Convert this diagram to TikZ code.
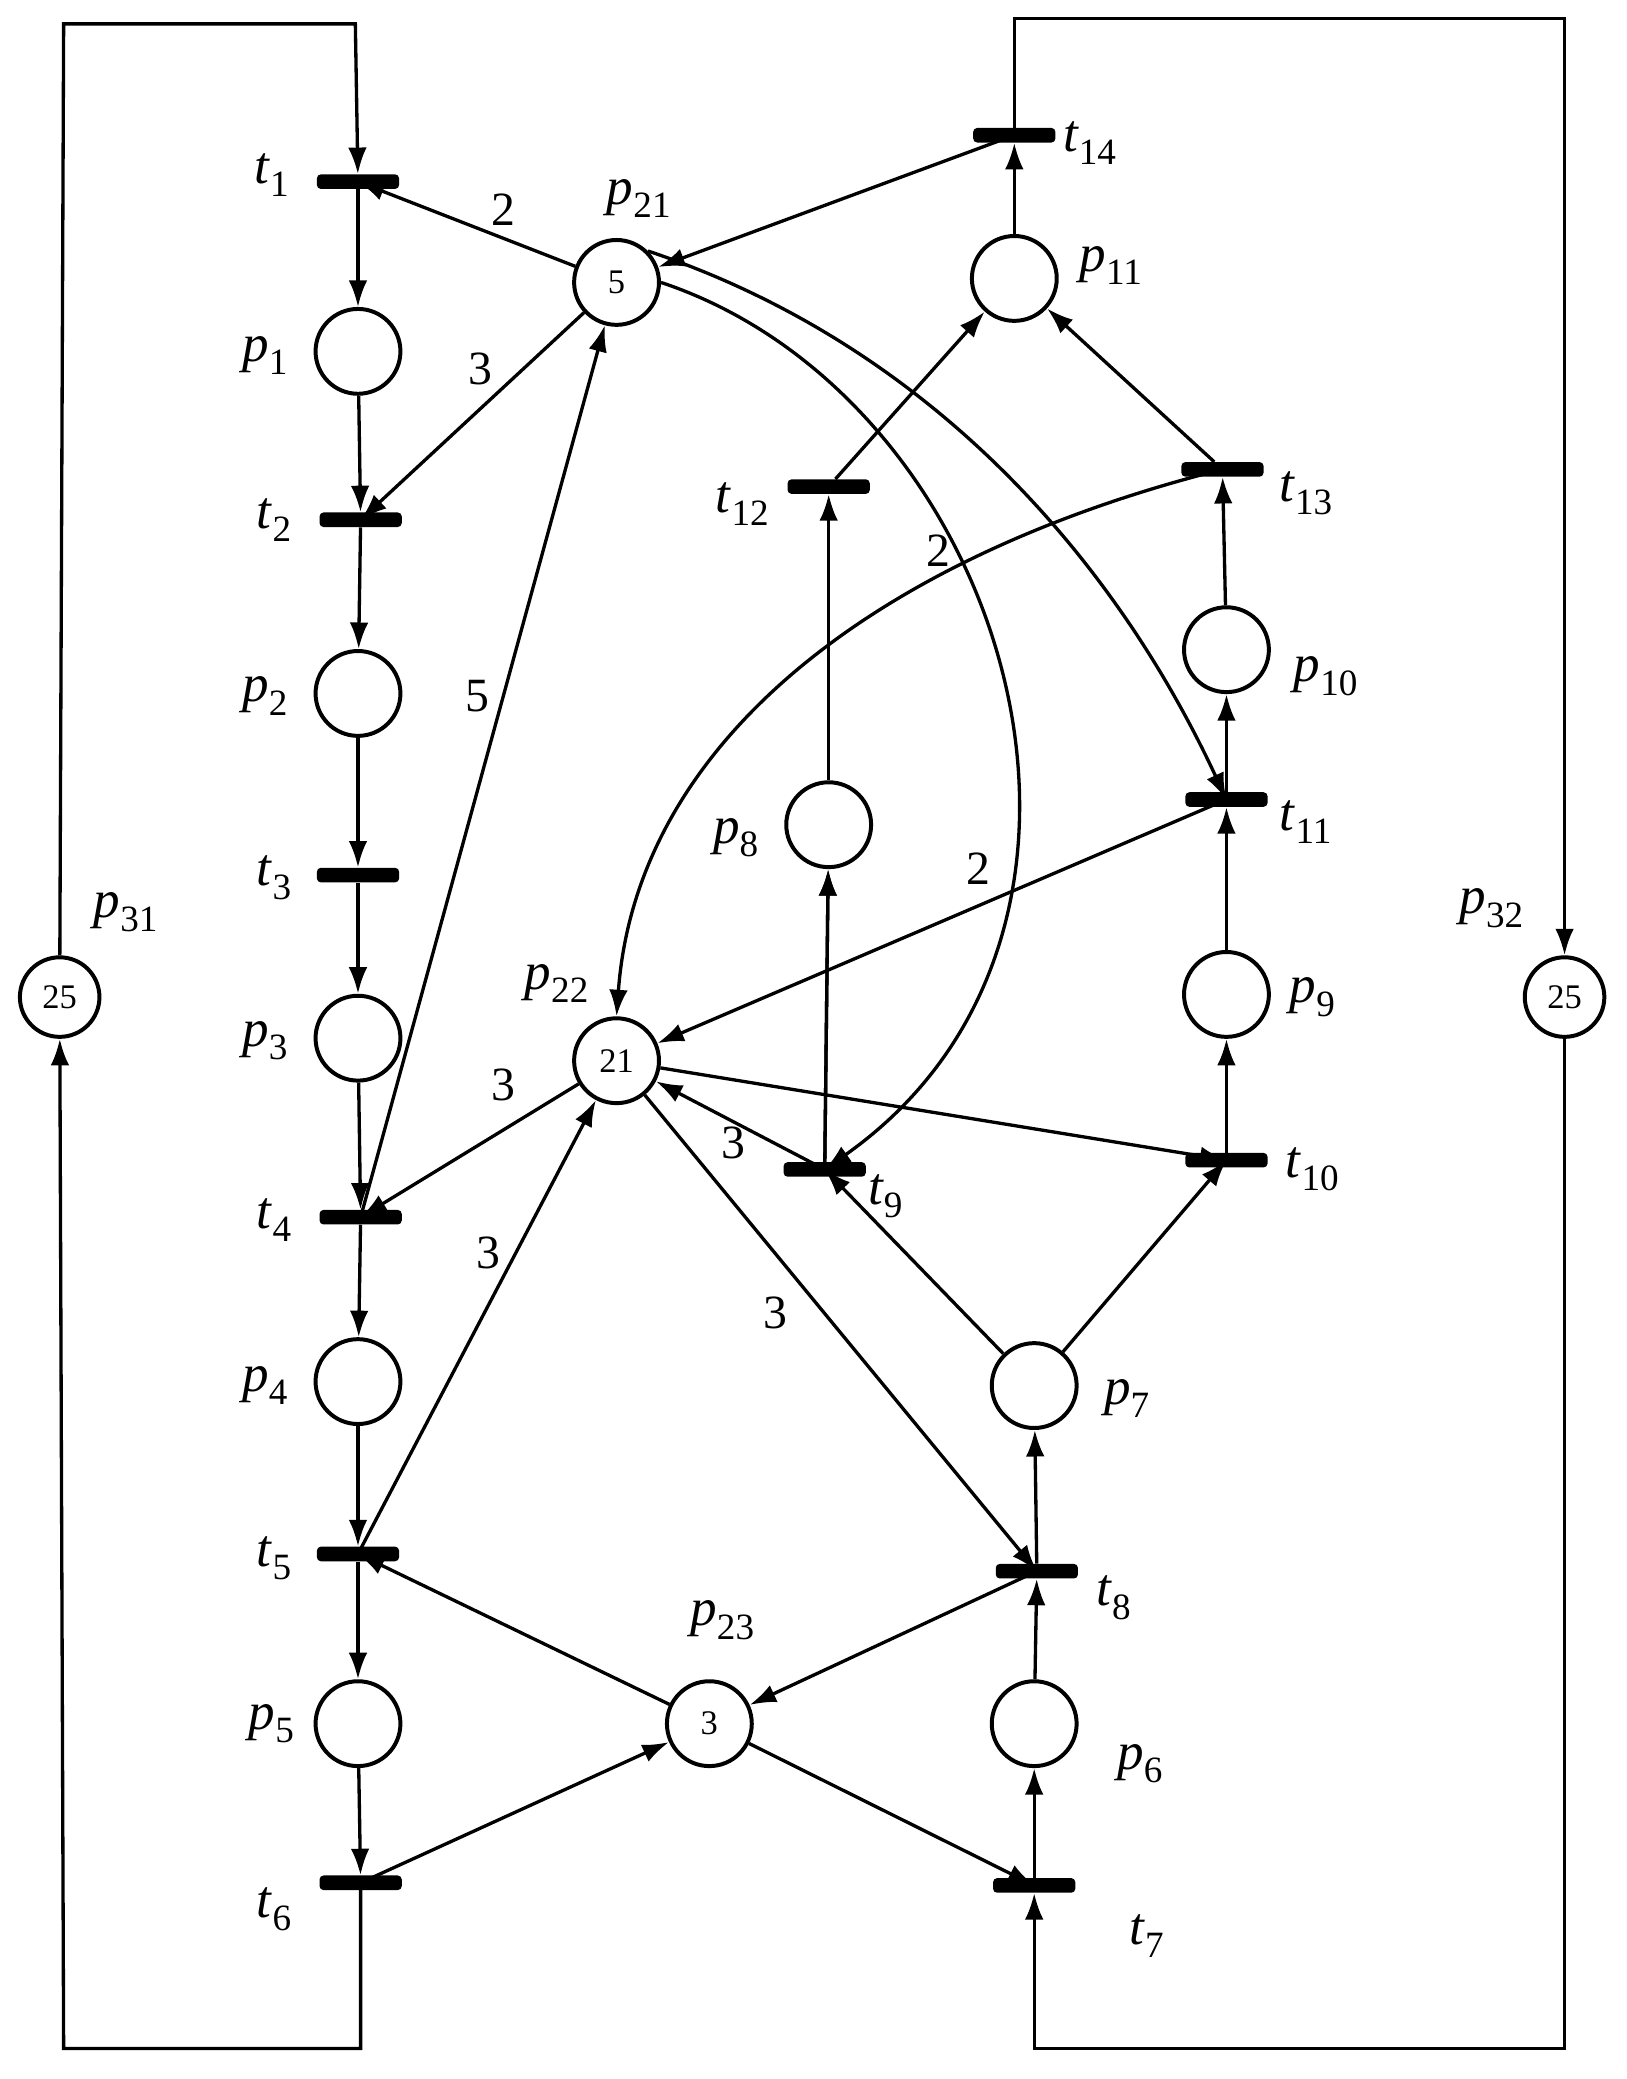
\documentclass[tikz,border=0pt]{standalone}
\usepackage{fontspec}
\setmainfont{Liberation Serif}
\usetikzlibrary{arrows.meta}
\newcommand{\lb}[2]{\textit{#1}\textsubscript{#2}}
\tikzset{
 pl/.style={circle,draw,line width=3pt,minimum size=64pt,inner sep=0pt,font=\fontsize{26}{30}\selectfont},
 tr/.style={rectangle,fill=black,minimum width=62pt,minimum height=11pt,inner sep=0pt,rounded corners=3pt},
 lab/.style={font=\fontsize{40}{46}\selectfont},
 wt/.style={font=\fontsize{36}{42}\selectfont},
 arc/.style={line width=2.5pt,-{Latex[length=20pt,width=14pt]}},
 ln/.style={line width=2.5pt}
}
\begin{document}
\begin{tikzpicture}[x=1pt,y=-1pt]
\useasboundingbox[fill=white] (0,0) rectangle (1227,1568);
% places
\node[pl] (p1) at (270,265) {}; \node[pl] (p2) at (270,523) {};
\node[pl] (p3) at (270,783) {}; \node[pl] (p4) at (270,1042) {};
\node[pl] (p5) at (270,1300) {};
\node[pl] (p21) at (465,213) {5}; \node[pl] (p22) at (465,800) {21};
\node[pl] (p23) at (535,1300) {3};
\node[pl,minimum size=60pt] (p31) at (45,752) {25};
\node[pl,minimum size=60pt] (p32) at (1180,752) {25};
\node[pl] (p6) at (780,1300) {}; \node[pl] (p7) at (780,1045) {};
\node[pl] (p8) at (625,622) {}; \node[pl] (p9) at (925,750) {};
\node[pl] (p10) at (925,490) {}; \node[pl] (p11) at (765,210) {};
% transitions
\node[tr] (t1) at (270,137) {}; \node[tr] (t2) at (272,392) {};
\node[tr] (t3) at (270,660) {}; \node[tr] (t4) at (272,918) {};
\node[tr] (t5) at (270,1172) {}; \node[tr] (t6) at (272,1420) {};
\node[tr] (t7) at (780,1422) {}; \node[tr] (t8) at (782,1185) {};
\node[tr] (t9) at (622,882) {}; \node[tr] (t10) at (925,875) {};
\node[tr] (t11) at (925,603) {}; \node[tr] (t12) at (625,367) {};
\node[tr] (t13) at (922,354) {}; \node[tr] (t14) at (765,102) {};
% labels
\node[lab] at (205,132) {\lb{t}{1}}; \node[lab] at (200,268) {\lb{p}{1}};
\node[lab] at (207,392) {\lb{t}{2}}; \node[lab] at (200,525) {\lb{p}{2}};
\node[lab] at (207,662) {\lb{t}{3}}; \node[lab] at (200,785) {\lb{p}{3}};
\node[lab] at (207,920) {\lb{t}{4}}; \node[lab] at (200,1045) {\lb{p}{4}};
\node[lab] at (207,1175) {\lb{t}{5}}; \node[lab] at (205,1300) {\lb{p}{5}};
\node[lab] at (207,1440) {\lb{t}{6}};
\node[lab] at (482,150) {\lb{p}{21}}; \node[lab] at (420,742) {\lb{p}{22}};
\node[lab] at (545,1222) {\lb{p}{23}};
\node[lab] at (95,688) {\lb{p}{31}}; \node[lab] at (1125,685) {\lb{p}{32}};
\node[lab] at (822,108) {\lb{t}{14}}; \node[lab] at (838,200) {\lb{p}{11}};
\node[lab] at (560,380) {\lb{t}{12}}; \node[lab] at (985,372) {\lb{t}{13}};
\node[lab] at (1000,510) {\lb{p}{10}}; \node[lab] at (985,620) {\lb{t}{11}};
\node[lab] at (555,632) {\lb{p}{8}}; \node[lab] at (990,752) {\lb{p}{9}};
\node[lab] at (668,902) {\lb{t}{9}}; \node[lab] at (990,882) {\lb{t}{10}};
\node[lab] at (850,1055) {\lb{p}{7}}; \node[lab] at (840,1205) {\lb{t}{8}};
\node[lab] at (860,1330) {\lb{p}{6}}; \node[lab] at (865,1460) {\lb{t}{7}};
% weights
\node[wt] at (380,158) {2}; \node[wt] at (362,278) {3};
\node[wt] at (360,525) {5}; \node[wt] at (708,415) {2};
\node[wt] at (738,655) {2}; \node[wt] at (380,818) {3};
\node[wt] at (368,945) {3}; \node[wt] at (553,862) {3};
\node[wt] at (585,990) {3};
% chain
\foreach \a/\b in {t1/p1,p1/t2,t2/p2,p2/t3,t3/p3,p3/t4,t4/p4,p4/t5,t5/p5,p5/t6,
 t7/p6,p6/t8,t8/p7,t9/p8,t12/p11,t10/p9,t11/p10,t13/p11,p11/t14,p9/t11,p10/t13}
 \draw[arc] (\a) -- (\b);
\draw[arc] (p8) -- (t12);
\draw[arc] (p7) -- (t9.center);
\draw[arc] (p7) -- (t10.center);
\draw[arc] (t9.center) -- (p8);
% resources
\draw[arc] (p21) -- (t1.center);
\draw[arc] (p21) -- (t2.center);
\draw[arc] (t4.center) -- (p21);
\draw[arc] (t14.center) -- (p21);
\draw[arc] (p21.east) .. controls (760,300) and (880,700) .. (t9.center);
\draw[arc] (p21.north east) .. controls (700,260) and (840,420) .. (t11.center);
\draw[arc] (t13.center) .. controls (660,420) and (480,560) .. (p22.north);
\draw[arc] (t11.center) -- (p22);
\draw[arc] (p22) -- (t4.center);
\draw[arc] (t5.center) -- (p22);
\draw[arc] (t9.center) -- (p22);
\draw[arc] (p22) -- (t10.center);
\draw[arc] (p22) -- (t8.center);
\draw[arc] (p23) -- (t5.center);
\draw[arc] (t8.center) -- (p23);
\draw[arc] (t6.center) -- (p23);
\draw[arc] (p23) -- (t7.center);
% loops
\coordinate (a1) at (272,1545); \coordinate (a2) at (48,1545);
\coordinate (a3) at (48,18); \coordinate (a4) at (268,18);
\draw[arc] (t6.center) -- (a1) -- (a2) -- (p31);
\draw[arc] (p31) -- (a3) -- (a4) -- (t1);
\coordinate (b1) at (765,14); \coordinate (b2) at (1180,14);
\coordinate (b3) at (1180,1545); \coordinate (b4) at (780,1545);
\draw[arc] (t14.center) -- (b1) -- (b2) -- (p32);
\draw[arc] (p32) -- (b3) -- (b4) -- (t7);
\end{tikzpicture}
\end{document}
